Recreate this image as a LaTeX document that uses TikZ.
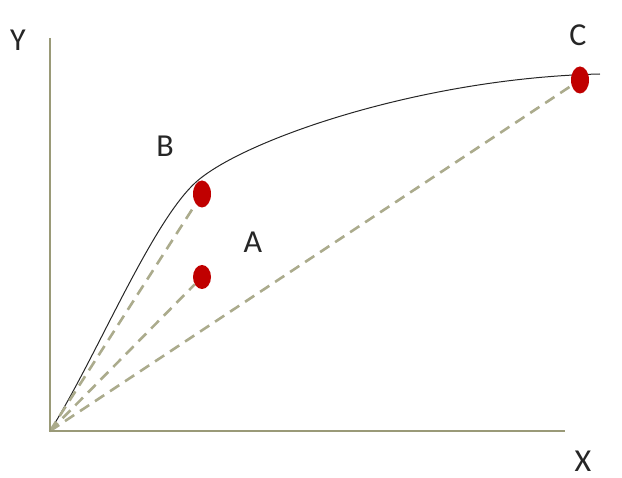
\documentclass[tikz,border=0pt]{standalone}
\usepackage{fontspec}
\setmainfont{Carlito}
\usetikzlibrary{shapes.geometric,backgrounds}
\definecolor{axiscol}{HTML}{9A9A78}
\definecolor{dashcol}{HTML}{ABAB8C}
\definecolor{dotred}{HTML}{C00000}
\begin{document}
\begin{tikzpicture}[x=1pt,y=-1pt,
  axisline/.style={draw=axiscol,line width=2.6pt},
  guide/.style={draw=dashcol,line width=2.6pt,dash pattern=on 11pt off 7pt},
  dot/.style={ellipse,fill=dotred,inner sep=0pt,minimum width=18pt,minimum height=27pt},
  lbl/.style={font=\fontsize{32}{38}\selectfont,text=black!85}]
\useasboundingbox (0,0) rectangle (622,478);
\coordinate (O) at (50,431);
\coordinate (Ytop) at (50,38);
\coordinate (Xend) at (565,431);
\coordinate (K) at (195,183);
\coordinate (E) at (600,74);
\node[dot] (B) at (202,194) {};
\node[dot,minimum height=24pt] (A) at (202,277) {};
\node[dot] (C) at (580,80) {};
\begin{scope}[on background layer]
\draw[black!85,line width=1pt] (O) .. controls (95,360) and (150,225) .. (K)
  .. controls (240,141) and (420,78) .. (E);
\draw[guide] (O) -- (B);
\draw[guide] (O) -- (A);
\draw[guide] (O) -- (C);
\end{scope}
\draw[axisline] (Ytop) -- (O) -- (Xend);
\node[lbl] (Yl) at (18,40) {Y};
\node[lbl] (Xl) at (583,461) {X};
\node[lbl] (Bl) at (165,146) {B};
\node[lbl] (Al) at (253,242) {A};
\node[lbl] (Cl) at (578,35) {C};
\end{tikzpicture}
\end{document}
